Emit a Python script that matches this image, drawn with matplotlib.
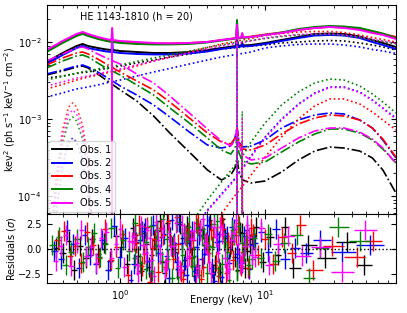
import numpy as np
import matplotlib
matplotlib.use("Agg")
import matplotlib.pyplot as plt

plt.rcParams['font.size'] = 7

obs_names = ["Obs. 1", "Obs. 2", "Obs. 3", "Obs. 4", "Obs. 5"]
obs_colors = ["black", "blue", "red", "green", "magenta"]

# ---- model curves, all stored as log10(E^2 F_E) ----
# total model (solid)
e_tot = [0.31, 0.4, 0.5, 0.55, 0.6, 0.7, 0.8, 0.87, 0.88, 0.89, 1.0, 1.3, 1.7, 2.2, 3, 4, 5, 6,
         6.3, 6.4, 6.5, 6.85, 6.95, 7.05, 8, 10, 13, 17, 22, 28, 35, 45, 55, 65, 80]
tot_1 = [-2.260, -2.143, -2.052, -2.026, -2.052, -2.078, -2.097, -2.104, -2.104, -2.104, -2.117, -2.130,
         -2.143, -2.143, -2.130, -2.104, -2.078, -2.058, -2.052, -1.974, -2.052, -2.045, -2.013, -2.045,
         -2.039, -2.013, -1.974, -1.935, -1.896, -1.890, -1.896, -1.929, -1.974, -2.013, -2.065]
tot_2 = [-2.286, -2.169, -2.078, -2.052, -2.078, -2.104, -2.123, -2.130, -1.948, -2.130, -2.143, -2.156,
         -2.162, -2.162, -2.149, -2.123, -2.091, -2.071, -2.065, -1.948, -2.065, -2.058, -2.026, -2.058,
         -2.052, -2.026, -1.987, -1.948, -1.916, -1.909, -1.916, -1.948, -2.000, -2.039, -2.091]
tot_3 = [-2.117, -2.000, -1.909, -1.883, -1.909, -1.948, -1.974, -1.987, -1.987, -1.987, -2.000, -2.013,
         -2.019, -2.019, -2.013, -2.000, -1.974, -1.955, -1.948, -1.844, -1.948, -1.942, -1.909, -1.942,
         -1.929, -1.903, -1.877, -1.844, -1.818, -1.805, -1.812, -1.831, -1.864, -1.896, -1.935]
tot_4 = [-2.130, -2.013, -1.922, -1.896, -1.922, -1.961, -1.987, -2.000, -2.000, -2.000, -2.013, -2.026,
         -2.032, -2.032, -2.026, -2.006, -1.981, -1.961, -1.955, -1.714, -1.955, -1.948, -1.896, -1.948,
         -1.935, -1.909, -1.877, -1.831, -1.805, -1.792, -1.799, -1.818, -1.857, -1.890, -1.948]
tot_5 = [-2.104, -1.987, -1.896, -1.870, -1.896, -1.935, -1.961, -1.974, -1.818, -1.974, -1.987, -2.000,
         -2.013, -2.019, -2.013, -2.000, -1.974, -1.955, -1.948, -1.779, -1.948, -1.942, -1.883, -1.942,
         -1.935, -1.909, -1.883, -1.844, -1.818, -1.805, -1.818, -1.844, -1.883, -1.909, -1.961]

# cut-off power law (dotted)
e_pl = [0.31, 0.4, 0.5, 0.55, 0.6, 0.7, 0.8, 1.0, 1.3, 1.7, 2.2, 3, 4, 5, 6, 7, 8, 10,
        13, 17, 22, 28, 35, 45, 55, 65, 80]
pl_1 = [-2.468, -2.442, -2.409, -2.396, -2.390, -2.364, -2.344, -2.312, -2.273, -2.234, -2.195, -2.156,
        -2.117, -2.091, -2.078, -2.065, -2.052, -2.039, -2.013, -2.000, -1.987, -1.981, -1.987, -2.013,
        -2.039, -2.065, -2.104]
pl_2 = [-2.714, -2.662, -2.610, -2.597, -2.584, -2.558, -2.532, -2.494, -2.442, -2.390, -2.344, -2.286,
        -2.234, -2.195, -2.169, -2.149, -2.130, -2.078, -2.052, -2.032, -2.026, -2.026, -2.039, -2.065,
        -2.097, -2.117, -2.149]
pl_3 = [-2.610, -2.552, -2.494, -2.474, -2.455, -2.429, -2.403, -2.364, -2.312, -2.247, -2.195, -2.130,
        -2.071, -2.026, -2.000, -1.974, -1.955, -1.916, -1.890, -1.870, -1.864, -1.864, -1.877, -1.909,
        -1.942, -1.968, -2.000]
pl_4 = [-2.494, -2.448, -2.403, -2.390, -2.377, -2.351, -2.325, -2.299, -2.253, -2.208, -2.169, -2.117,
        -2.071, -2.039, -2.013, -1.994, -1.981, -1.955, -1.929, -1.909, -1.903, -1.903, -1.916, -1.942,
        -1.974, -1.994, -2.026]
pl_5 = [-2.571, -2.519, -2.468, -2.455, -2.442, -2.416, -2.390, -2.351, -2.299, -2.247, -2.201, -2.143,
        -2.091, -2.052, -2.026, -2.006, -1.987, -1.948, -1.922, -1.903, -1.896, -1.896, -1.909, -1.935,
        -1.968, -1.987, -2.019]

# relativistic reflection (dash-dot)
e_rel = [0.31, 0.4, 0.5, 0.55, 0.6, 0.7, 0.8, 1.0, 1.3, 1.7, 2.2, 3, 4, 5, 5.8, 6.2, 6.4, 6.6, 7, 8,
         10, 13, 17, 22, 28, 35, 45, 55, 65, 80]
rel_1 = [-2.429, -2.377, -2.325, -2.312, -2.338, -2.416, -2.494, -2.623, -2.766, -2.961, -3.182, -3.429,
         -3.662, -3.792, -3.727, -3.636, -3.506, -3.688, -3.792, -3.831, -3.805, -3.688, -3.532, -3.416,
         -3.364, -3.377, -3.416, -3.506, -3.662, -3.961]
rel_2 = [-2.416, -2.364, -2.312, -2.299, -2.325, -2.390, -2.455, -2.571, -2.688, -2.818, -2.974, -3.169,
         -3.338, -3.377, -3.351, -3.247, -3.091, -3.299, -3.364, -3.351, -3.273, -3.117, -3.013, -2.948,
         -2.922, -2.935, -3.013, -3.117, -3.273, -3.506]
rel_3 = [-2.299, -2.208, -2.143, -2.130, -2.156, -2.221, -2.286, -2.390, -2.506, -2.623, -2.779, -2.987,
         -3.182, -3.299, -3.325, -3.247, -3.117, -3.299, -3.390, -3.403, -3.338, -3.195, -3.065, -2.987,
         -2.948, -2.961, -3.013, -3.117, -3.260, -3.494]
rel_4 = [-2.338, -2.247, -2.182, -2.169, -2.195, -2.273, -2.338, -2.429, -2.558, -2.688, -2.857, -3.052,
         -3.247, -3.403, -3.455, -3.377, -3.247, -3.442, -3.545, -3.584, -3.558, -3.429, -3.299, -3.195,
         -3.130, -3.130, -3.182, -3.273, -3.390, -3.571]
rel_5 = [-2.247, -2.156, -2.078, -2.065, -2.091, -2.156, -2.208, -2.286, -2.416, -2.532, -2.701, -2.922,
         -3.130, -3.286, -3.351, -3.273, -3.143, -3.338, -3.468, -3.532, -3.506, -3.377, -3.247, -3.156,
         -3.117, -3.117, -3.169, -3.260, -3.377, -3.571]

# distant reflection hump (dotted)
e_hump = [3, 3.5, 4, 5, 6, 7, 8, 10, 13, 17, 22, 28, 35, 45, 55, 65, 80]
hump_2 = [-4.506, -4.338, -4.182, -3.974, -3.805, -3.636, -3.481, -3.234, -3.000, -2.805, -2.662, -2.584,
          -2.584, -2.649, -2.753, -2.857, -2.987]
hump_3 = [-4.701, -4.571, -4.442, -4.234, -4.026, -3.870, -3.727, -3.494, -3.234, -3.000, -2.831, -2.740,
          -2.740, -2.805, -2.909, -3.013, -3.143]
hump_4 = [-4.377, -4.208, -4.052, -3.818, -3.636, -3.481, -3.299, -3.052, -2.818, -2.649, -2.532, -2.481,
          -2.494, -2.571, -2.675, -2.779, -2.922]
hump_5 = [-4.519, -4.351, -4.195, -3.987, -3.818, -3.649, -3.494, -3.247, -3.013, -2.812, -2.669, -2.591,
          -2.591, -2.656, -2.760, -2.864, -3.000]

# soft gaussian (dotted)
e_soft = [0.33, 0.36, 0.4, 0.44, 0.47, 0.5, 0.55, 0.6, 0.65]
soft_2 = [-4.6, -4.247, -3.597, -3.299, -3.247, -3.299, -3.532, -3.987, -4.6]
soft_3 = [-4.6, -3.792, -3.143, -2.844, -2.792, -2.844, -3.078, -3.532, -4.6]
soft_4 = [-4.6, -3.974, -3.325, -3.026, -2.974, -3.026, -3.260, -3.714, -4.6]
soft_5 = [-4.6, -3.883, -3.234, -2.935, -2.883, -2.935, -3.169, -3.623, -4.6]

# narrow lines (dotted spikes)
e_fe = [6.37, 6.4, 6.43]
fe_peak = [-3.3, -2.04, -1.91, -1.74, -1.82]
e_fe26 = [6.93, 6.96, 6.99]
fe26_peak = [-3.5, -3.3, -3.3, -2.9, -3.0]
e_ovii = [0.875, 0.88, 0.885]
ovii_peak_5 = -1.85
line_floor = -5.5

# ---- residuals (sigma) ----
res_e_1 = [0.36, 0.40, 0.44, 0.48, 0.53, 0.58, 0.64, 0.70, 0.77, 0.85, 0.93, 1.02, 1.12, 1.22, 1.33, 1.45,
           1.58, 1.72, 1.87, 2.03, 2.2, 2.38, 2.58, 2.8, 3.03, 3.28, 3.55, 3.85, 4.17, 4.5, 4.87, 5.27,
           5.7, 6.17, 6.68, 7.23, 7.83, 8.6, 9.6, 10.8, 12.3, 13.7, 15.6, 19.8, 26.0, 37.0, 48.0]
res_1 = [0.1, -0.4, 0.8, -2.1, 0.3, -0.9, 1.0, -0.5, 0.6, -1.2, 1.3, 0.2, -1.5, 2.1, -0.7, 1.6, -1.8, 0.9,
         2.8, -2.4, 1.2, -0.3, 2.5, -1.1, 0.6, -2.7, 1.9, 0.4, 2.9, -1.6, -2.3, 1.1, 0.2, -0.8, 1.7, -1.9,
         0.5, 2.2, -1.3, 1.2, -0.6, 2.2, -1.9, 0.4, -0.9, 0.7, -1.6]
res_e_2 = [0.35, 0.39, 0.43, 0.47, 0.52, 0.57, 0.62, 0.68, 0.75, 0.82, 0.9, 0.99, 1.08, 1.18, 1.29, 1.41,
           1.54, 1.68, 1.83, 1.99, 2.16, 2.35, 2.55, 2.77, 3.0, 3.25, 3.52, 3.81, 4.12, 4.46, 4.83, 5.23,
           5.66, 6.13, 6.63, 7.17, 7.76, 8.5, 9.4, 10.5, 11.9, 13.7, 16.0, 19.2, 24.0, 34.0, 53.0]
res_2 = [-0.2, -1.0, 1.9, 0.5, -1.9, 1.4, -0.6, -1.5, 0.9, -2.1, 2.3, -0.8, 1.1, -3.1, 0.7, 1.8, -1.2, 2.4,
         -0.4, 1.5, -2.9, 0.6, 2.7, -1.7, 0.9, -2.2, 1.4, -0.5, 2.3, -3.2, 0.8, 1.6, -1.4, 2.0, -0.9, 1.3,
         -2.0, 0.6, 1.7, -0.3, 2.0, -1.0, 0.1, -0.4, 0.9, -0.3, 0.4]
res_e_3 = [0.37, 0.41, 0.45, 0.49, 0.54, 0.59, 0.65, 0.71, 0.78, 0.86, 0.94, 1.03, 1.13, 1.24, 1.35, 1.47,
           1.6, 1.74, 1.9, 2.06, 2.24, 2.43, 2.63, 2.85, 3.09, 3.35, 3.63, 3.93, 4.26, 4.61, 4.99, 5.4,
           5.85, 6.33, 6.86, 7.43, 8.05, 8.9, 10.0, 11.4, 13.1, 15.3, 17.4, 21.4, 29.0, 43.0, 56.0]
res_3 = [0.9, 1.8, -0.7, 0.3, -1.4, 1.7, 0.4, -0.9, 2.0, -1.1, 0.2, 1.5, -2.6, 0.8, 2.4, -0.5, -3.3, 1.0,
         2.1, -1.8, 0.4, 3.2, -2.3, 1.3, -0.9, 2.6, -3.0, 0.7, 1.9, -1.2, 3.1, -2.4, 0.5, 1.4, -1.7, 0.9,
         2.1, -0.6, 1.0, -1.5, 1.2, -0.4, 2.4, -2.1, 0.3, -0.8, 0.8]
res_e_4 = [0.34, 0.38, 0.42, 0.46, 0.5, 0.55, 0.6, 0.66, 0.72, 0.79, 0.87, 0.96, 1.05, 1.15, 1.26, 1.38,
           1.51, 1.65, 1.8, 1.96, 2.13, 2.32, 2.52, 2.74, 2.97, 3.22, 3.49, 3.78, 4.09, 4.43, 4.8, 5.2,
           5.63, 6.1, 6.6, 7.14, 7.73, 8.4, 9.3, 10.4, 11.8, 13.5, 16.5, 20.1, 24.0, 32.0, 45.0]
res_4 = [0.4, 1.2, -1.6, -0.3, 1.0, -1.3, 0.2, 1.6, -0.8, 0.5, 2.1, -1.9, 0.9, -0.2, 2.6, -1.4, 0.7, -2.2,
         1.9, 3.0, -1.0, 0.4, -2.8, 1.6, 2.2, -0.7, -2.6, 1.2, 0.3, 2.5, -1.9, 0.8, -3.1, 1.4, 2.3, -0.4,
         -1.6, 1.1, -0.9, 1.5, -1.2, 0.6, 1.4, -2.9, 0.1, 2.2, 0.8]
res_e_5 = [0.36, 0.39, 0.42, 0.46, 0.5, 0.54, 0.58, 0.63, 0.68, 0.74, 0.8, 0.87, 0.94, 1.0, 1.07, 1.15,
           1.24, 1.33, 1.43, 1.53, 1.64, 1.76, 1.89, 2.03, 2.18, 2.34, 2.51, 2.69, 2.89, 3.1, 3.33, 3.57,
           3.83, 4.11, 4.41, 4.73, 5.08, 5.45, 5.85, 6.28, 6.74, 7.23, 7.8, 8.5, 9.4, 10.6, 12.2, 14.5,
           18.0, 24.0, 34.0, 49.0]
res_5 = [-1.2, 0.3, 1.4, -1.7, 0.6, 1.9, -0.7, 0.2, -1.4, 1.1, 1.7, -0.9, 0.5, 2.0, -1.8, 0.8, 1.3, -2.4,
         0.4, 1.9, -1.1, 2.7, -0.5, -2.0, 1.6, 0.3, -1.7, 2.4, -0.9, 1.0, -2.5, 1.8, 0.6, -1.3, 2.2, -0.4,
         1.5, -2.2, 0.9, 2.9, -1.5, 0.3, 1.2, -0.8, 2.1, -1.6, 0.5, 1.3, -0.7, 0.2, -2.3, 1.9]

# second spectrum per observation (dense 1-8 keV channels)
res_e_1b = [1.27, 1.39, 1.51, 1.65, 1.8, 1.95, 2.12, 2.29, 2.48, 2.69, 2.91, 3.15, 3.41, 3.7, 4.01, 4.34,
            4.68, 5.07, 5.48, 5.93, 6.42, 6.95, 7.52, 8.2]
res_1b = [1.4, -2.2, 0.5, -0.6, 1.8, -1.3, 2.6, 0.2, -2.0, 1.1, 2.3, -0.8, -1.6, 2.0, 0.4, -2.5, 1.5, 3.0,
          -0.9, 0.8, -2.1, 1.6, -0.2, 1.0]
res_e_2b = [1.25, 1.37, 1.49, 1.62, 1.77, 1.92, 2.09, 2.27, 2.46, 2.66, 2.88, 3.12, 3.38, 3.66, 3.97, 4.3,
            4.65, 5.04, 5.45, 5.9, 6.38, 6.9, 7.47, 8.1]
res_2b = [-1.5, 0.9, 2.1, -2.4, 0.3, 1.2, -0.7, 2.9, -1.3, 0.6, -2.6, 1.8, 0.2, -1.0, 2.4, -1.9, 0.7, -2.8,
          1.3, 2.2, -0.5, -1.4, 1.9, 0.4]
res_e_3b = [1.29, 1.41, 1.53, 1.67, 1.82, 1.98, 2.15, 2.33, 2.52, 2.73, 2.96, 3.2, 3.46, 3.75, 4.06, 4.39,
            4.74, 5.13, 5.55, 6.0, 6.5, 7.03, 7.6, 8.3]
res_3b = [0.6, -1.7, 2.2, 0.1, -2.3, 1.4, 2.8, -1.0, 0.5, -3.0, 1.7, 0.9, 2.5, -1.8, -0.4, 1.2, -2.7, 2.0,
          0.7, -1.1, 2.6, -0.3, -1.9, 1.5]
res_e_4b = [1.26, 1.38, 1.5, 1.63, 1.78, 1.94, 2.1, 2.28, 2.47, 2.68, 2.9, 3.14, 3.4, 3.68, 3.99, 4.32,
            4.67, 5.05, 5.47, 5.92, 6.4, 6.92, 7.5, 8.15]
res_4b = [-0.9, 1.6, -2.0, 2.3, 0.4, -1.2, 1.0, -2.9, 2.7, -0.6, 0.8, -1.7, 2.1, 1.3, -2.4, 0.2, 2.8, -1.5,
          -0.3, 1.9, -2.2, 0.6, 1.2, -1.0]
res_e_5b = [1.21, 1.3, 1.4, 1.5, 1.6, 1.71, 1.83, 1.96, 2.1, 2.25, 2.42, 2.6, 2.79, 3.0, 3.22, 3.45, 3.7,
            3.97, 4.26, 4.57, 4.9, 5.26, 5.65, 6.06, 6.5, 6.98, 7.5, 8.1]
res_5b = [0.7, -1.6, 2.3, -0.4, 1.1, -2.7, 0.9, 2.0, -1.2, 0.3, 2.6, -2.1, 1.4, -0.7, 1.8, -1.9, 3.0, 0.4,
          -2.4, 1.2, 2.2, -0.9, -2.0, 1.6, 0.5, -1.3, 2.4, -0.6]

totals = [tot_1, tot_2, tot_3, tot_4, tot_5]
powerlaws = [pl_1, pl_2, pl_3, pl_4, pl_5]
reflections = [rel_1, rel_2, rel_3, rel_4, rel_5]
humps = [None, hump_2, hump_3, hump_4, hump_5]
softs = [None, soft_2, soft_3, soft_4, soft_5]
res_sets = [[(res_e_1, res_1), (res_e_1b, res_1b)],
            [(res_e_2, res_2), (res_e_2b, res_2b)],
            [(res_e_3, res_3), (res_e_3b, res_3b)],
            [(res_e_4, res_4), (res_e_4b, res_4b)],
            [(res_e_5, res_5), (res_e_5b, res_5b)]]


def bin_halfwidths(centres):
    # bin edges halfway (in log) between neighbouring channels
    c = np.array(centres)
    mids = np.sqrt(c[1:] * c[:-1])
    lo = np.concatenate([[c[0] ** 2 / mids[0]], mids])
    hi = np.concatenate([mids, [c[-1] ** 2 / mids[-1]]])
    return [c - lo, hi - c]


fig = plt.figure(figsize=(4.07, 3.13), dpi=100)
ax = fig.add_axes([0.1143, 0.3163, 0.8575, 0.6677])
axr = fig.add_axes([0.1143, 0.0958, 0.8575, 0.2205], sharex=ax)

for i in range(5):
    col = obs_colors[i]
    ax.plot(e_tot, 10 ** np.array(totals[i]), color=col, lw=1.4, label=obs_names[i])
    ax.plot(e_pl, 10 ** np.array(powerlaws[i]), color=col, lw=1.2, ls=':')
    ax.plot(e_rel, 10 ** np.array(reflections[i]), color=col, lw=1.2, ls='-.')
    if humps[i] is not None:
        ax.plot(e_hump, 10 ** np.array(humps[i]), color=col, lw=1.2, ls=':')
    if softs[i] is not None:
        ax.plot(e_soft, 10 ** np.array(softs[i]), color=col, lw=1.2, ls=':', alpha=0.8)
    ax.plot(e_fe, 10 ** np.array([line_floor, fe_peak[i], line_floor]), color=col, lw=1.0, ls=':')
    ax.plot(e_fe26, 10 ** np.array([line_floor, fe26_peak[i], line_floor]), color=col, lw=1.0, ls=':')
ax.plot(e_ovii, 10 ** np.array([line_floor, ovii_peak_5, line_floor]), color='magenta', lw=1.0)

ax.set_xscale('log')
ax.set_yscale('log')
ax.set_xlim(0.31, 79.5)
ax.set_ylim(5.84e-5, 0.0302)
ax.set_ylabel(r'kev$^2$ (ph s$^{-1}$ keV$^{-1}$ cm$^{-2}$)')
ax.yaxis.set_label_coords(-0.083, 0.5)
ax.text(0.096, 0.943, 'HE 1143-1810 (h = 20)', transform=ax.transAxes, va='center', ha='left')
ax.legend(loc='lower left', handlelength=2.0, borderaxespad=0.2, labelspacing=0.35)
ax.tick_params(which='both', direction='in', top=True, right=True, labelbottom=False)

for i in range(5):
    for e_vals, r_vals in res_sets[i]:
        axr.errorbar(e_vals, r_vals, xerr=bin_halfwidths(e_vals), yerr=1.0,
                     fmt='none', ecolor=obs_colors[i], elinewidth=1.0)
axr.axhline(0.0, color='black', ls=':', lw=1.0)
axr.set_ylim(-3.45, 3.5)
axr.set_yticks([-2.5, 0.0, 2.5])
axr.set_xlabel('Energy (keV)')
axr.xaxis.set_label_coords(0.5, -0.17)
axr.set_ylabel(r'Residuals ($\sigma$)')
axr.yaxis.set_label_coords(-0.083, 0.5)
axr.tick_params(which='both', direction='in', top=True, right=True)

fig.savefig('out.png', dpi=100)
